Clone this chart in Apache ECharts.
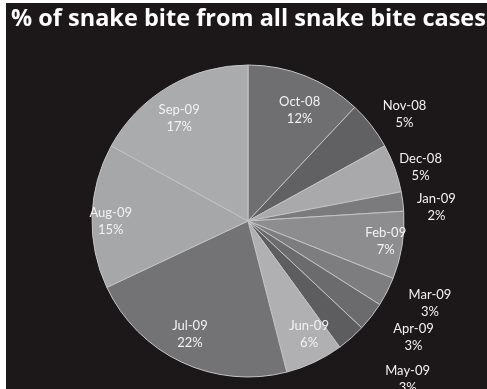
<!DOCTYPE html>
<html><head><meta charset="utf-8">
<script src="https://cdn.jsdelivr.net/npm/echarts@6/dist/echarts.min.js"></script>
<style>html,body{margin:0;padding:0;background:#fff;}#c{width:487px;height:389px;}</style>
</head><body><div id="c"></div>
<script>
const categories = ['Oct-08','Nov-08','Dec-08','Jan-09','Feb-09','Mar-09','Apr-09','May-09','Jun-09','Jul-09','Aug-09','Sep-09'];
const values = [12,5,5,2,7,3,3,3,6,22,15,17];
const sliceColors = ['#6f6f71','#616163','#a9a9ab','#7b7b7d','#8d8d8f','#7d7d7f','#6b6b6d','#5d5d5f','#b0b0b2','#737375','#a5a7a9','#a9abad'];
const labelOutside = [false,true,true,true,false,true,true,true,false,false,false,false];
const titleText = '% of snake bite from all snake bite cases';

const chart = echarts.init(document.getElementById('c'), null, {renderer:'canvas'});
const center = [248, 221];
const R = 156;
// small label nudges (pixels) to mimic the original's slightly flattened pie
const nudge = {0:[4,10],1:[4,12],2:[-9,12],3:[-3,11],4:[10,0],5:[10,-5],6:[13,-2],7:[32,14],8:[6,-4],9:[-3,-4],10:[-8,4],11:[-3,9]};
const drawData = categories.map((c,i)=>({name:c, value:values[i], itemStyle:{color:sliceColors[i]}}));
const insideData = categories.map((c,i)=>({name:c, value:values[i], label:{show:!labelOutside[i]}}));
const outsideData = categories.map((c,i)=>({name:c, value:values[i], label:{show:labelOutside[i]}}));
const labelStyle = {formatter:'{b}\n{d}%', color:'#f2f2f2', fontFamily:'Lato', fontSize:13, lineHeight:17, align:'center', position:'inside'};
const layoutFn = function(p){ const n = nudge[p.dataIndex] || [0,0]; return {hideOverlap:false, dx:n[0], dy:n[1]}; };
chart.setOption({
  backgroundColor:'#ffffff',
  animation:false,
  graphic:[{type:'rect', shape:{x:6,y:3,width:481,height:386}, style:{fill:'#1c1718'}, z:-10}],
  title:{text:titleText, left:6, top:2, textStyle:{color:'#ffffff', fontFamily:'Open Sans', fontWeight:'bold', fontSize:23.5}},
  series:[
    {type:'pie', center:center, radius:[0,R], startAngle:90, clockwise:true, silent:true,
     data:drawData, label:{show:false}, labelLine:{show:false},
     itemStyle:{borderColor:'#c4c4c6', borderWidth:1}},
    {type:'pie', center:center, radius:[R*0.62,R], startAngle:90, clockwise:true, silent:true,
     data:insideData, itemStyle:{color:'rgba(0,0,0,0)'}, avoidLabelOverlap:false,
     label:labelStyle, labelLine:{show:false}, labelLayout:layoutFn},
    {type:'pie', center:center, radius:[R+10,R+58], startAngle:90, clockwise:true, silent:true,
     data:outsideData, itemStyle:{color:'rgba(0,0,0,0)'}, avoidLabelOverlap:false,
     label:labelStyle, labelLine:{show:false}, labelLayout:layoutFn}
  ]
});
</script></body></html>
